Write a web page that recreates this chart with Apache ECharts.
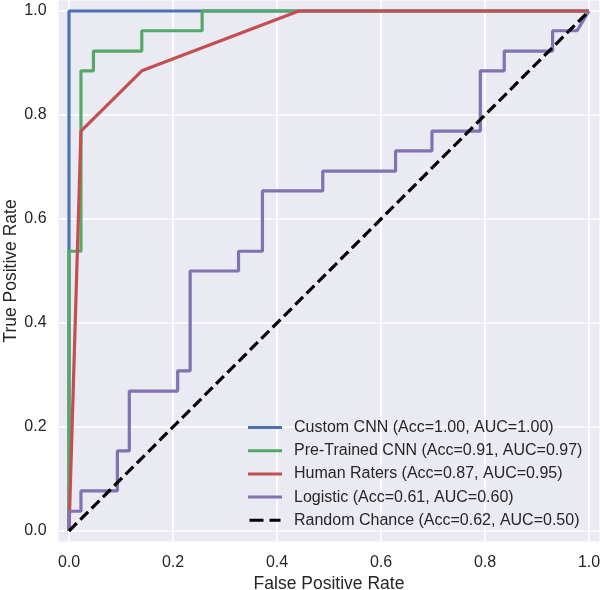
<!DOCTYPE html>
<html>
<head>
<meta charset="utf-8">
<script src="https://cdn.jsdelivr.net/npm/echarts@6/dist/echarts.min.js"></script>
<style>
html,body{margin:0;padding:0;background:#fff;}
#chart{width:600px;height:590px;}
</style>
</head>
<body>
<div id="chart"></div>
<script>
// ---- data ----
var xTicks = [0.0, 0.2, 0.4, 0.6, 0.8, 1.0];
var yTicks = [0.0, 0.2, 0.4, 0.6, 0.8, 1.0];
var seriesNames = [
  'Custom CNN (Acc=1.00, AUC=1.00)',
  'Pre-Trained CNN (Acc=0.91, AUC=0.97)',
  'Human Raters (Acc=0.87, AUC=0.95)',
  'Logistic (Acc=0.61, AUC=0.60)',
  'Random Chance (Acc=0.62, AUC=0.50)'
];
var customFpr = [0, 0, 1];
var customTpr = [0, 1, 1];
var pretrainedFpr = [0, 0, 0.023, 0.023, 0.047, 0.047, 0.140, 0.140, 0.256, 0.256, 1];
var pretrainedTpr = [0, 0.538, 0.538, 0.885, 0.885, 0.923, 0.923, 0.962, 0.962, 1, 1];
var humanFpr = [0, 0.023, 0.140, 0.442, 1];
var humanTpr = [0, 0.769, 0.885, 1, 1];
var logisticFpr = [0, 0, 0.023, 0.023, 0.093, 0.093, 0.116, 0.116, 0.209, 0.209, 0.233, 0.233,
  0.326, 0.326, 0.372, 0.372, 0.488, 0.488, 0.628, 0.628, 0.698, 0.698, 0.791, 0.791,
  0.837, 0.837, 0.930, 0.930, 0.977, 1];
var logisticTpr = [0, 0.038, 0.038, 0.077, 0.077, 0.154, 0.154, 0.269, 0.269, 0.308, 0.308, 0.500,
  0.500, 0.538, 0.538, 0.654, 0.654, 0.692, 0.692, 0.731, 0.731, 0.769, 0.769, 0.885,
  0.885, 0.923, 0.923, 0.962, 0.962, 1];
var randomFpr = [0, 1];
var randomTpr = [0, 1];

var colors = ['#4C72B0', '#55A868', '#C44E52', '#8172B2', '#000000'];
var AXMIN = -0.02, AXMAX = 1.02;
var FONT = '"Liberation Sans", Arial, sans-serif';
var TXT = '#262626';

function pairs(xs, ys) { return xs.map(function (x, i) { return [x, ys[i]]; }); }

var gridV = xTicks.map(function (v) { return { coords: [[v, AXMIN], [v, AXMAX]] }; });
var gridH = yTicks.map(function (v) { return { coords: [[AXMIN, v], [AXMAX, v]] }; });

var curves = [
  pairs(customFpr, customTpr),
  pairs(pretrainedFpr, pretrainedTpr),
  pairs(humanFpr, humanTpr),
  pairs(logisticFpr, logisticTpr),
  pairs(randomFpr, randomTpr)
];

var series = [{
  type: 'lines', coordinateSystem: 'cartesian2d', z: 1, silent: true,
  data: gridV.concat(gridH),
  lineStyle: { color: '#ffffff', width: 1.6, opacity: 1 }
}];
curves.forEach(function (d, i) {
  series.push({
    name: seriesNames[i], type: 'line', data: d, symbol: 'none', showSymbol: false,
    z: 2 + i, animation: false,
    lineStyle: { color: colors[i], width: 3.2, type: i === 4 ? [11, 5] : 'solid', cap: 'butt' },
    itemStyle: { color: colors[i] }
  });
});

var dashIcon = 'path://M0,0h14v3h-14z M20,0h11v3h-11z';
var legendData = seriesNames.map(function (n, i) {
  return { name: n, icon: i === 4 ? dashIcon : 'rect' };
});

var chart = echarts.init(document.getElementById('chart'), null, { renderer: 'canvas' });
chart.setOption({
  animation: false,
  backgroundColor: '#ffffff',
  grid: { left: 58.6, top: 0.6, width: 540.8, height: 540.8, show: true,
          backgroundColor: '#EAEAF2', borderWidth: 0, containLabel: false,
          outerBoundsMode: 'none' },
  xAxis: {
    type: 'value', min: AXMIN, max: AXMAX,
    name: 'False Positive Rate', nameLocation: 'middle', nameGap: 34,
    nameTextStyle: { fontFamily: FONT, fontSize: 17.5, color: TXT },
    axisLine: { show: false }, axisTick: { show: false }, splitLine: { show: false },
    axisLabel: { customValues: xTicks, fontFamily: FONT, fontSize: 16, color: TXT, margin: 13,
                 formatter: function (v) { return v.toFixed(1); } }
  },
  yAxis: {
    type: 'value', min: AXMIN, max: AXMAX,
    name: 'True Positive Rate', nameLocation: 'middle', nameGap: 38, nameMoveOverlap: false,
    nameTextStyle: { fontFamily: FONT, fontSize: 17.5, color: TXT },
    axisLine: { show: false }, axisTick: { show: false }, splitLine: { show: false },
    axisLabel: { customValues: yTicks, fontFamily: FONT, fontSize: 16, color: TXT, margin: 12,
                 formatter: function (v) { return v.toFixed(1); } }
  },
  legend: {
    orient: 'vertical', left: 248, top: 419.5, padding: 0,
    data: legendData,
    itemWidth: 34, itemHeight: 3, itemGap: 7.2,
    textStyle: { fontFamily: FONT, fontSize: 16, color: TXT, padding: [0, 0, 0, 7], lineHeight: 14 },
    selectedMode: false
  },
  series: series
});
</script>
</body>
</html>
